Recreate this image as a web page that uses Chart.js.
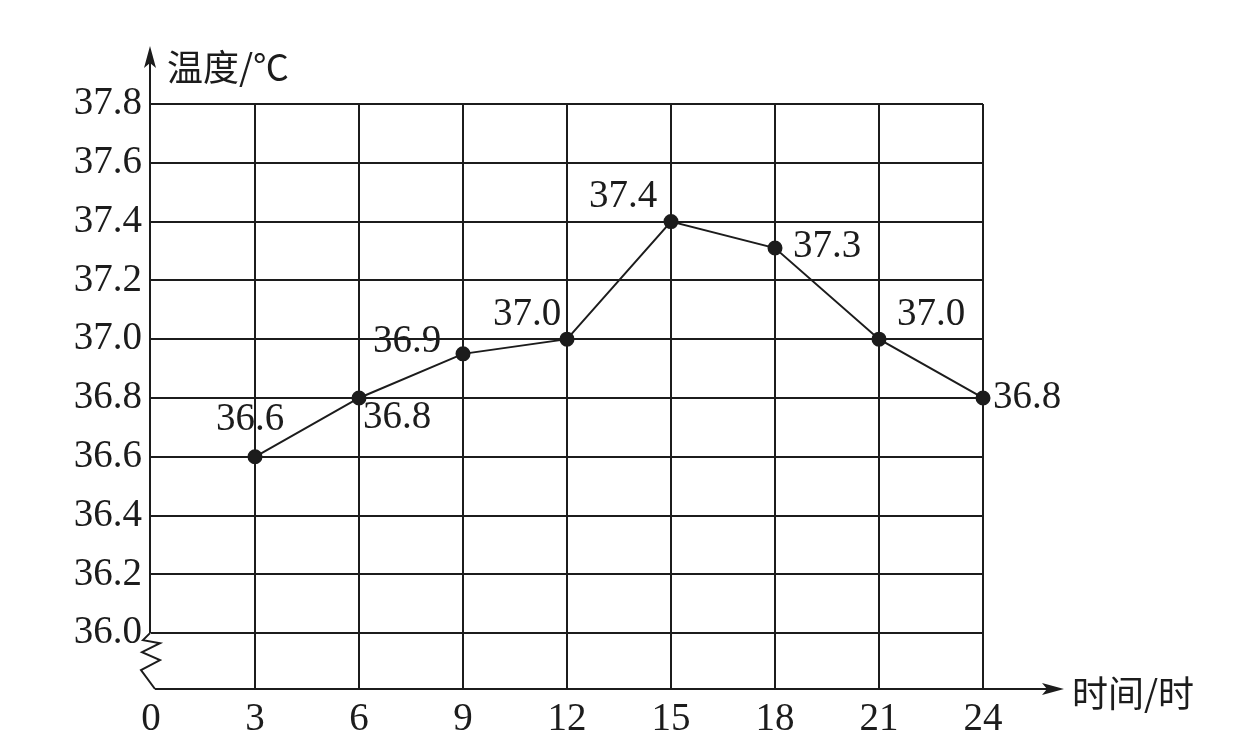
<!DOCTYPE html>
<html>
<head>
<meta charset="utf-8">
<script src="https://cdn.jsdelivr.net/npm/chart.js@4/dist/chart.umd.min.js"></script>
<style>
  html, body { margin: 0; padding: 0; background: #fff; }
  #wrap { width: 1245px; height: 748px; }
</style>
</head>
<body>
<div id="wrap"><canvas id="chart" width="1245" height="748"></canvas></div>
<script>
// Body temperature over a day.
const hours = [3, 6, 9, 12, 15, 18, 21, 24];
const temps = [36.6, 36.8, 36.95, 37.0, 37.4, 37.31, 37.0, 36.8];
const valueLabels = ["36.6", "36.8", "36.9", "37.0", "37.4", "37.3", "37.0", "36.8"];
const xTicks = [0, 3, 6, 9, 12, 15, 18, 21, 24];
const yTicks = [36.0, 36.2, 36.4, 36.6, 36.8, 37.0, 37.2, 37.4, 37.6, 37.8];
const yTitle = "温度/℃";
const xTitle = "时间/时";

// where each value label sits relative to its point (px)
const labelOffsets = [[-5, -37], [38, 20], [-56, -12], [-40, -24], [-48, -25], [52, -1], [52, -24], [44, 0]];

const INK = "#1c1c1c";
const NUM_FONT = "39px 'Liberation Serif', 'DejaVu Serif', serif";
const CJK_FONT = "36px 'Noto Sans CJK SC', sans-serif";

const axesPlugin = {
    id: "axesAndLabels",
    afterDraw(chart) {
        const { ctx, chartArea: a, scales } = chart;
        const x0 = a.left - 1;
        const yBreak = scales.y.getPixelForValue(36.0);
        ctx.save();
        ctx.strokeStyle = INK;
        ctx.fillStyle = INK;
        ctx.lineWidth = 2;

        // y axis with arrow, broken below 36.0
        ctx.beginPath();
        ctx.moveTo(x0, yBreak);
        ctx.lineTo(x0, 60);
        ctx.stroke();
        ctx.beginPath();
        ctx.moveTo(x0, 46);
        ctx.lineTo(x0 - 6, 68);
        ctx.lineTo(x0, 63);
        ctx.lineTo(x0 + 6, 68);
        ctx.closePath();
        ctx.fill();

        // zigzag break mark
        ctx.beginPath();
        ctx.moveTo(x0, yBreak);
        ctx.lineTo(x0 - 7, yBreak + 7);
        ctx.lineTo(x0 + 10, yBreak + 10);
        ctx.lineTo(x0 - 8, yBreak + 19);
        ctx.lineTo(x0 + 10, yBreak + 27);
        ctx.lineTo(x0 - 9, yBreak + 37);
        ctx.lineTo(x0 + 5, a.bottom);
        ctx.stroke();

        // x axis with arrow
        ctx.beginPath();
        ctx.moveTo(x0 + 5, a.bottom);
        ctx.lineTo(1050, a.bottom);
        ctx.stroke();
        ctx.beginPath();
        ctx.moveTo(1064, a.bottom);
        ctx.lineTo(1042, a.bottom - 6);
        ctx.lineTo(1047, a.bottom);
        ctx.lineTo(1042, a.bottom + 6);
        ctx.closePath();
        ctx.fill();

        // axis titles
        ctx.font = CJK_FONT;
        ctx.textAlign = "left";
        ctx.textBaseline = "middle";
        ctx.fillText(yTitle, 167, 67);
        ctx.fillText(xTitle, 1072, 693);

        // value labels
        ctx.font = NUM_FONT;
        ctx.textAlign = "center";
        const pts = chart.getDatasetMeta(0).data;
        pts.forEach((p, i) => {
            const [dx, dy] = labelOffsets[i];
            ctx.fillText(valueLabels[i], p.x + dx, p.y + dy);
        });
        ctx.restore();
    },
};

new Chart(document.getElementById("chart"), {
    type: "line",
    data: {
        datasets: [{
            data: hours.map((h, i) => ({ x: h, y: temps[i] })),
            borderColor: INK,
            borderWidth: 2,
            pointRadius: 6.5,
            pointBackgroundColor: INK,
            pointBorderColor: INK,
            tension: 0,
            clip: false,
        }],
    },
    options: {
        responsive: false,
        animation: false,
        devicePixelRatio: 1,
        layout: { padding: { top: 104, right: 262, left: 0, bottom: 0 } },
        plugins: { legend: { display: false }, tooltip: { enabled: false } },
        scales: {
            x: {
                type: "linear",
                min: 0,
                max: 24,
                afterBuildTicks: s => { s.ticks = xTicks.map(v => ({ value: v })); },
                afterFit: s => { s.height = 59; },
                border: { display: false },
                grid: {
                    drawTicks: false,
                    lineWidth: 2,
                    color: c => (c.tick && c.tick.value === 0 ? "rgba(0,0,0,0)" : INK),
                },
                ticks: {
                    autoSkip: false,
                    maxRotation: 0,
                    padding: 7,
                    color: INK,
                    font: { family: "'Liberation Serif', serif", size: 39 },
                    callback: v => String(v),
                },
            },
            y: {
                type: "linear",
                min: 35.81,
                max: 37.8,
                afterBuildTicks: s => { s.ticks = yTicks.map(v => ({ value: v })); },
                afterFit: s => { s.width = 151; },
                border: { display: false },
                grid: { drawTicks: false, lineWidth: 2, color: INK },
                ticks: {
                    autoSkip: false,
                    padding: 9,
                    color: INK,
                    font: { family: "'Liberation Serif', serif", size: 39 },
                    callback: v => v.toFixed(1),
                },
            },
        },
    },
    plugins: [axesPlugin],
});
</script>
</body>
</html>
